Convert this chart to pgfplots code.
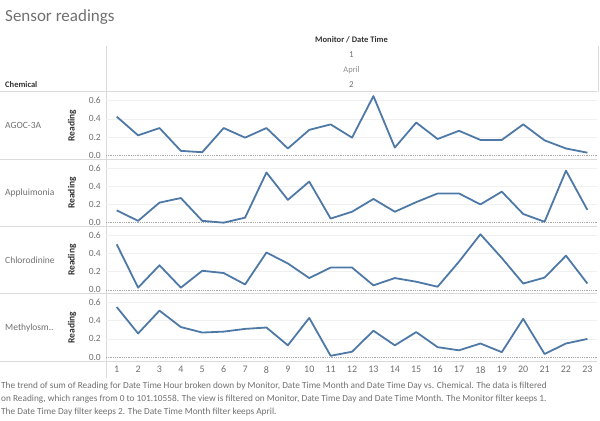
\documentclass[border=0pt]{standalone}
\usepackage{pgfplots}
\pgfplotsset{compat=1.18}
\usepackage{fontspec}
\setmainfont{Carlito}
\definecolor{tblue}{HTML}{4E79A7}
\definecolor{sepc}{HTML}{DADADA}
\definecolor{gridc}{HTML}{F0F0F0}
\definecolor{lab}{HTML}{707070}
\definecolor{dark}{HTML}{333333}

\pgfplotsset{panel/.style={
  scale only axis, width=491bp, height=67.25bp,
  xmin=0.5, xmax=23.45, ymin=-0.042, ymax=0.695,
  axis line style={draw=none}, major tick length=0pt,
  ytick={0.2,0.4,0.6}, extra y ticks={0},
  ymajorgrids, grid style={gridc, line width=0.8bp},
  extra y tick style={grid style={densely dotted, color=lab!60, line width=0.6bp}},
  /pgf/number format/assume math mode=true,
  yticklabel={\pgfmathprintnumber[fixed,fixed zerofill,precision=1]{\tick}},
  yticklabel style={font=\fontsize{9.5bp}{10bp}\selectfont, text=lab, anchor=east, inner sep=0pt, xshift=-5bp},
  xtick=\empty,
  ylabel={\textbf{Reading}},
  ylabel style={at={([xshift=-34bp]axis description cs:0,0.5)}, rotate=0, anchor=center, font=\fontsize{9.5bp}{10bp}\selectfont, text=dark},
  clip=false,
}}

\begin{document}
\begin{tikzpicture}
\path[use as bounding box] (0,0) rectangle (600bp,-421bp);

% header
\node[anchor=base west, inner sep=0pt, text=lab, font=\fontsize{17bp}{18bp}\selectfont] at (5bp,-21bp) {Sensor readings};
\node[anchor=base, inner sep=0pt, text=dark, font=\fontsize{8.5bp}{10bp}\selectfont\bfseries] at (351.5bp,-42bp) {Monitor / Date Time};
\node[anchor=base, inner sep=0pt, text=lab, font=\fontsize{9bp}{10bp}\selectfont] at (351.5bp,-57bp) {1};
\node[anchor=base, inner sep=0pt, text=lab!80, font=\fontsize{8.5bp}{10bp}\selectfont] at (351.5bp,-72bp) {April};
\node[anchor=base, inner sep=0pt, text=lab, font=\fontsize{9bp}{10bp}\selectfont] at (351.5bp,-87bp) {2};
\node[anchor=base west, inner sep=0pt, text=dark, font=\fontsize{8.5bp}{10bp}\selectfont\bfseries] at (5bp,-87bp) {Chemical};

% row labels
\foreach \t/\y in {AGOC-3A/125, Appluimonia/193, Chlorodinine/260.5, Methylosm../328}{
  \node[anchor=west, inner sep=0pt, text=lab, font=\fontsize{9.5bp}{11bp}\selectfont] at (5bp,-\y bp) {\t};
}

% separators
\foreach \y in {91.5,159.25,226.5,293.75,361}{
  \draw[sepc, line width=0.9bp] (0,-\y bp) -- (597bp,-\y bp);
}
\draw[sepc, line width=0.9bp] (106bp,-46bp) -- (106bp,-378bp);
\draw[sepc, line width=0.9bp] (598bp,-46bp) -- (598bp,-91.5bp);

% AGOC-3A
\begin{axis}[panel, at={(106bp,-92bp)}, anchor=north west]
\addplot[tblue, line width=1.8bp, line join=round] coordinates {
(1,0.425)(2,0.22)(3,0.30)(4,0.05)(5,0.035)(6,0.30)(7,0.195)(8,0.30)(9,0.076)(10,0.28)
(11,0.34)(12,0.195)(13,0.65)(14,0.086)(15,0.36)(16,0.18)(17,0.27)(18,0.17)(19,0.17)(20,0.34)
(21,0.165)(22,0.076)(23,0.03)};
\end{axis}

% Appluimonia
\begin{axis}[panel, at={(106bp,-159.25bp)}, anchor=north west]
\addplot[tblue, line width=1.8bp, line join=round] coordinates {
(1,0.135)(2,0.02)(3,0.22)(4,0.27)(5,0.02)(6,0.0)(7,0.055)(8,0.55)(9,0.25)(10,0.45)
(11,0.045)(12,0.12)(13,0.26)(14,0.12)(15,0.225)(16,0.32)(17,0.32)(18,0.20)(19,0.34)(20,0.095)
(21,0.01)(22,0.57)(23,0.14)};
\end{axis}

% Chlorodinine
\begin{axis}[panel, at={(106bp,-226.5bp)}, anchor=north west]
\addplot[tblue, line width=1.8bp, line join=round] coordinates {
(1,0.50)(2,0.025)(3,0.27)(4,0.025)(5,0.21)(6,0.185)(7,0.06)(8,0.41)(9,0.29)(10,0.13)
(11,0.245)(12,0.245)(13,0.05)(14,0.13)(15,0.09)(16,0.035)(17,0.31)(18,0.61)(19,0.35)(20,0.07)
(21,0.135)(22,0.375)(23,0.07)};
\end{axis}

% Methylosmolene
\begin{axis}[panel, at={(106bp,-293.75bp)}, anchor=north west,
  xtick={1,...,23},
  xticklabel={\pgfmathprintnumber[int detect]{\tick}},
  xticklabel style={font=\fontsize{10bp}{11bp}\selectfont, text=lab, anchor=north, inner sep=0pt, yshift=-5bp}]
\addplot[tblue, line width=1.8bp, line join=round] coordinates {
(1,0.55)(2,0.26)(3,0.51)(4,0.33)(5,0.27)(6,0.28)(7,0.31)(8,0.325)(9,0.13)(10,0.43)
(11,0.015)(12,0.06)(13,0.29)(14,0.13)(15,0.275)(16,0.11)(17,0.075)(18,0.15)(19,0.055)(20,0.42)
(21,0.035)(22,0.15)(23,0.20)};
\end{axis}

% caption
\begin{scope}[every node/.style={anchor=base west, inner sep=0pt, text=lab, font=\fontsize{9.3bp}{13bp}\selectfont}]
\node at (1bp,-388.5bp) {The trend of sum of Reading for Date Time Hour broken down by Monitor, Date Time Month and Date Time Day vs. Chemical. The data is filtered};
\node at (1bp,-401.5bp) {on Reading, which ranges from 0 to 101.10558. The view is filtered on Monitor, Date Time Day and Date Time Month. The Monitor filter keeps 1.};
\node at (1bp,-414.5bp) {The Date Time Day filter keeps 2. The Date Time Month filter keeps April.};
\end{scope}
\end{tikzpicture}
\end{document}
